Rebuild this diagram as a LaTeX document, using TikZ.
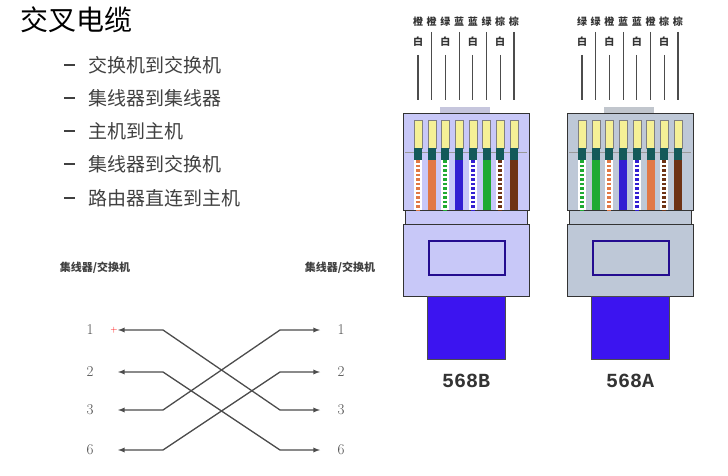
\documentclass[tikz,border=0pt]{standalone}
\usepackage{fontspec}
\newfontfamily\cjk{Noto Sans CJK SC}
\newfontfamily\plugfont{Liberation Mono}
\usetikzlibrary{positioning}
\definecolor{plugB}{RGB}{200,200,248}
\definecolor{plugA}{RGB}{190,200,215}
\definecolor{cableblue}{RGB}{60,20,240}
\definecolor{pinyellow}{RGB}{245,240,150}
\definecolor{pinteal}{RGB}{20,90,90}
\definecolor{wor}{RGB}{225,120,70}
\definecolor{wgr}{RGB}{30,170,50}
\definecolor{wbl}{RGB}{50,30,210}
\definecolor{wbr}{RGB}{110,50,20}
\tikzstyle{item}=[anchor=west,font=\cjk\fontsize{19}{19}\selectfont,text=black!75,inner sep=0pt]
\tikzstyle{pinlabel}=[font=\cjk\bfseries\fontsize{10}{10}\selectfont,inner sep=0pt,text=black!80]
\tikzstyle{num}=[font=\fontsize{15}{15}\selectfont,text=black!70]
\tikzstyle{hub}=[font=\cjk\bfseries\fontsize{11}{11}\selectfont,text=black!75]
\tikzstyle{wire}=[draw,line width=1.3pt,black!70]
\tikzstyle{body}=[draw,thick,black!80]
\begin{document}
\begin{tikzpicture}[x=1pt,y=-1pt]
    \useasboundingbox (0,0) rectangle (728,476);
    % title and list
    \node[anchor=west,inner sep=0pt,font=\cjk\fontsize{28}{28}\selectfont] (title) at (20,20) {交叉电缆};
    \foreach \y/\txt [count=\i] in {65/交换机到交换机, 98/集线器到集线器, 131/主机到主机,
                                      164/集线器到交换机, 198/路由器直连到主机} {
        \draw[black!75,line width=1.5pt] (64,\y) -- (75,\y);
        \node[item] (item\i) at (88,\y) {\txt};
    }
    % crossover wiring
    \node[hub] (hubL) at (95,268) {集线器/交换机};
    \node[hub] (hubR) at (340,268) {集线器/交换机};
    \foreach \n/\y in {1/330, 2/372, 3/410, 6/450} {
        \node[num] (l\n) at (90,\y) {\n};
        \node[num] (r\n) at (341,\y) {\n};
        \coordinate (la\n) at (118,\y);
        \coordinate (lb\n) at (163,\y);
        \coordinate (ra\n) at (280,\y);
        \coordinate (rb\n) at (320,\y);
    }
    \foreach \s/\d in {1/3, 2/6, 3/1, 6/2}
        \draw[wire,latex-latex] (la\s) -- (lb\s) -- (ra\d) -- (rb\d);
    \node[red,font=\small] (plus) at (114,330) {+};
    % plugs
    \foreach \x/\fillc/\std/\cols in {403/plugB/568B/{wor/1,wor/0,wgr/1,wbl/0,wbl/1,wgr/0,wbr/1,wbr/0},
                                   567/plugA/568A/{wgr/1,wgr/0,wor/1,wbl/0,wbl/1,wor/0,wbr/1,wbr/0}} {
        \fill[\fillc!80!black!60] (\x+37,107) rectangle (\x+87,113);
        \path[body,fill=\fillc] (\x,113) rectangle (\x+126,210);
        \path[body,fill=\fillc] (\x+2,210) rectangle (\x+124,224);
        \path[body,fill=\fillc] (\x,224) rectangle (\x+126,296);
        \draw[very thick,cableblue!60!black,fill=\fillc] (\x+26,241) rectangle (\x+102,275);
        \fill[cableblue] (\x+24,296) rectangle (\x+102,359);
        \draw[black!70] (\x+24,296) rectangle (\x+102,359);
        \node[font=\plugfont\bfseries\fontsize{20}{20}\selectfont,text=black!80] (lab\std) at (\x+63,381) {\std};
        \draw[black!40] (\x+2,152) -- (\x+124,152);
        \foreach \c/\w [count=\i] in \cols {
            \pgfmathsetmacro\px{\x+15+(\i-1)*13.7}
            \fill[pinyellow] (\px-4,120) rectangle (\px+4,148);
            \draw[black!50,thin] (\px-4,120) rectangle (\px+4,148);
            \fill[pinteal] (\px-4,148) rectangle (\px+4,160);
            \ifnum\w=1
                \fill[white] (\px-4,160) rectangle (\px+4,210);
                \draw[\c,line width=4pt,dash pattern=on 2.5pt off 2pt] (\px,160) -- (\px,210);
                \draw[black!70,line width=1.2pt] (\px,55) -- (\px,100);
                \node[pinlabel] at (\px,42) {白};
            \else
                \fill[\c] (\px-4,160) rectangle (\px+4,210);
                \draw[black!70,line width=1.2pt] (\px,32) -- (\px,100);
            \fi
        }
    }
    % colour names over the wires
    \foreach \t [count=\i] in {橙,橙,绿,蓝,蓝,绿,棕,棕}
        \node[pinlabel] (nb\i) at ({418+(\i-1)*13.7},22) {\t};
    \foreach \t [count=\i] in {绿,绿,橙,蓝,蓝,橙,棕,棕}
        \node[pinlabel] (na\i) at ({582+(\i-1)*13.7},22) {\t};
\end{tikzpicture}
\end{document}
